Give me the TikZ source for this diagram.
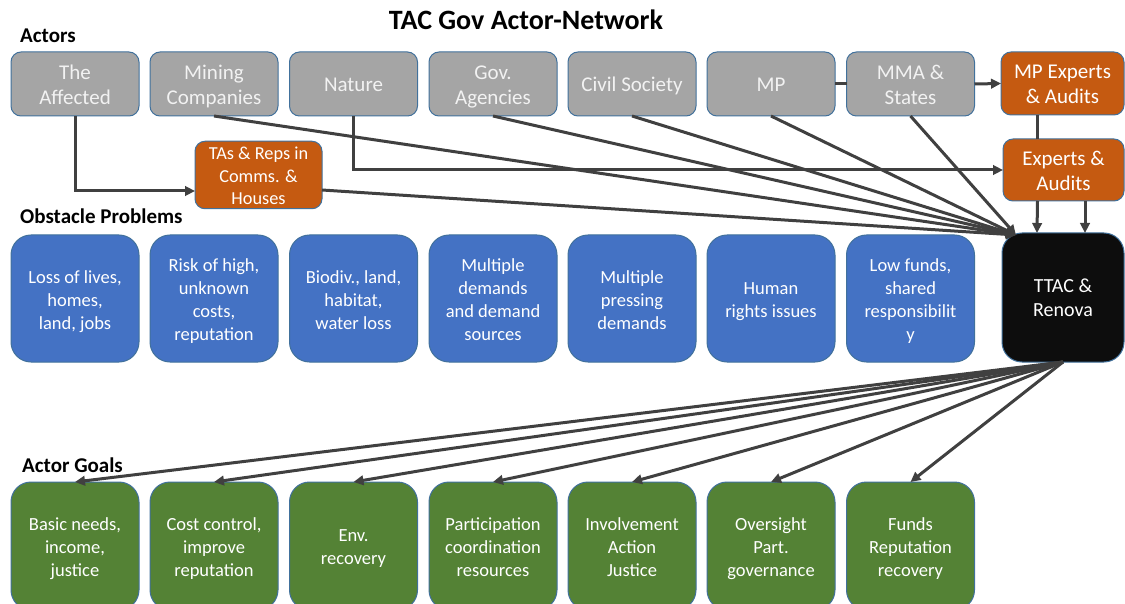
\documentclass[tikz,border=0pt]{standalone}
\usepackage{fontspec}
\setmainfont{Carlito}
\usetikzlibrary{arrows.meta,calc}
\definecolor{actorgray}{HTML}{A5A5A5}
\definecolor{boxrim}{HTML}{41719C}
\definecolor{expertorange}{HTML}{C55A11}
\definecolor{problemblue}{HTML}{4472C4}
\definecolor{goalgreen}{HTML}{548235}
\definecolor{hubblack}{HTML}{0D0D0D}
\definecolor{linkgray}{HTML}{404040}
% centred lines of box text, set a little low in the box
\newcommand\cellstack[2][3pt]{\raisebox{-#1}[\height][\depth]{\begin{tabular}{@{}c@{}}#2\end{tabular}}}
\tikzset{
  basebox/.style={draw=boxrim, line width=1pt, inner sep=0pt, outer sep=0pt},
  actorbox/.style={basebox, fill=actorgray, text=white!95!black, rounded corners=10pt,
    minimum width=128pt, minimum height=64pt, font=\fontsize{21}{25}\selectfont},
  expertbox/.style={basebox, fill=expertorange, text=white, rounded corners=10pt},
  problembox/.style={basebox, fill=problemblue, text=white, rounded corners=20pt,
    minimum width=128pt, minimum height=127pt, font=\fontsize{18.5}{23}\selectfont},
  goalbox/.style={basebox, fill=goalgreen, text=white, rounded corners=20pt,
    minimum width=128pt, minimum height=128pt, font=\fontsize{18.5}{23}\selectfont},
  hubbox/.style={basebox, fill=hubblack, text=white, rounded corners=20pt,
    minimum width=122pt, minimum height=129pt, font=\fontsize{20}{24}\selectfont},
  rowlabel/.style={anchor=west, inner sep=0pt, font=\bfseries\fontsize{21}{25}\selectfont},
  link/.style={draw=linkgray, line width=3pt},
  arrowlink/.style={link, -{Triangle[length=10pt,width=9.5pt]}},
}
\begin{document}
\begin{tikzpicture}[x=1pt,y=-1pt]
\useasboundingbox[fill=white] (0,0) rectangle (1125,604);

% headings
\node[font=\bfseries\fontsize{28}{31}\selectfont, inner sep=0pt] (title) at (526,20) {TAC Gov Actor-Network};
\node[rowlabel] (actorslbl) at (20,36) {Actors};
\node[rowlabel] (obstlbl) at (20,216) {Obstacle Problems};
\node[rowlabel] (goalslbl) at (22,465) {Actor Goals};

% actors
\node[actorbox] (affected) at (75,84) {\cellstack{The\\Affected}};
\node[actorbox] (mining) at (214,84) {\cellstack{Mining\\Companies}};
\node[actorbox] (nature) at (353.5,84) {\cellstack{Nature}};
\node[actorbox] (gov) at (493,84) {\cellstack{Gov.\\Agencies}};
\node[actorbox] (civil) at (632,84) {\cellstack{Civil Society}};
\node[actorbox] (mp) at (771,84) {\cellstack{MP}};
\node[actorbox] (mma) at (910.5,84) {\cellstack{MMA \&\\States}};

% experts and representatives
\node[expertbox, minimum width=123pt, minimum height=63pt, font=\fontsize{21}{25}\selectfont] (mpexp) at (1062.5,83.5) {\cellstack{MP Experts\\\& Audits}};
\node[expertbox, minimum width=121pt, minimum height=62pt, font=\fontsize{21}{25}\selectfont] (experts) at (1063.5,170) {\cellstack{Experts \&\\Audits}};
\node[expertbox, minimum width=127pt, minimum height=64pt, font=\fontsize{18.3}{22.5}\selectfont] (tas) at (258.5,175) {\cellstack{TAs \& Reps in\\Comms. \&\\Houses}};

% obstacle problems
\node[problembox] (p1) at (75,298.5) {\cellstack{Loss of lives,\\homes,\\land, jobs}};
\node[problembox] (p2) at (214,298.5) {\cellstack{Risk of high,\\unknown\\costs,\\reputation}};
\node[problembox] (p3) at (353.5,298.5) {\cellstack{Biodiv., land,\\habitat,\\water loss}};
\node[problembox] (p4) at (493,298.5) {\cellstack{Multiple\\demands\\and demand\\sources}};
\node[problembox] (p5) at (632,298.5) {\cellstack{Multiple\\pressing\\demands}};
\node[problembox] (p6) at (771,298.5) {\cellstack{Human\\rights issues}};
\node[problembox] (p7) at (910.5,298.5) {\cellstack{Low funds,\\shared\\responsibilit\\y}};

\node[hubbox] (ttac) at (1063,297.5) {\cellstack[2pt]{TTAC \&\\Renova}};

% actor goals
\node[goalbox] (g1) at (75,546) {\cellstack[2.5pt]{Basic needs,\\income,\\justice}};
\node[goalbox] (g2) at (214,546) {\cellstack[2.5pt]{Cost control,\\improve\\reputation}};
\node[goalbox] (g3) at (353.5,546) {\cellstack[2.5pt]{Env.\\recovery}};
\node[goalbox] (g4) at (493,546) {\cellstack[2.5pt]{Participation\\coordination\\resources}};
\node[goalbox] (g5) at (632,546) {\cellstack[2.5pt]{Involvement\\Action\\Justice}};
\node[goalbox] (g6) at (771,546) {\cellstack[2.5pt]{Oversight\\Part.\\governance}};
\node[goalbox] (g7) at (910.5,546) {\cellstack[2.5pt]{Funds\\Reputation\\recovery}};

% connectors
\coordinate (hubtip) at ([xshift=-47pt,yshift=-2pt]ttac.north);

\draw[arrowlink] (affected.south) |- ([yshift=-16pt]tas.west);
\draw[arrowlink] (nature.south) |- (experts.west);
\draw[link] (mp.east) -- (mma.west);
\draw[arrowlink] (mma.east) -- (mpexp.west);
\draw[link] ([xshift=-25pt]mpexp.south) -- ([xshift=-26pt]experts.north);
\draw[arrowlink] ([xshift=-26pt]experts.south) -- ([xshift=-26pt]ttac.north);
\draw[arrowlink] ([xshift=21.5pt]experts.south) -- ([xshift=22pt]ttac.north);

\foreach \src in {mining, gov, civil, mp, mma}
  \draw[arrowlink] (\src.south) -- (hubtip);
\draw[arrowlink] ([yshift=-15pt]tas.east) -- (hubtip);

\foreach \dst in {g1, g2, g3, g4, g5, g6, g7}
  \draw[arrowlink] (ttac.south) -- (\dst.north);
\end{tikzpicture}
\end{document}
